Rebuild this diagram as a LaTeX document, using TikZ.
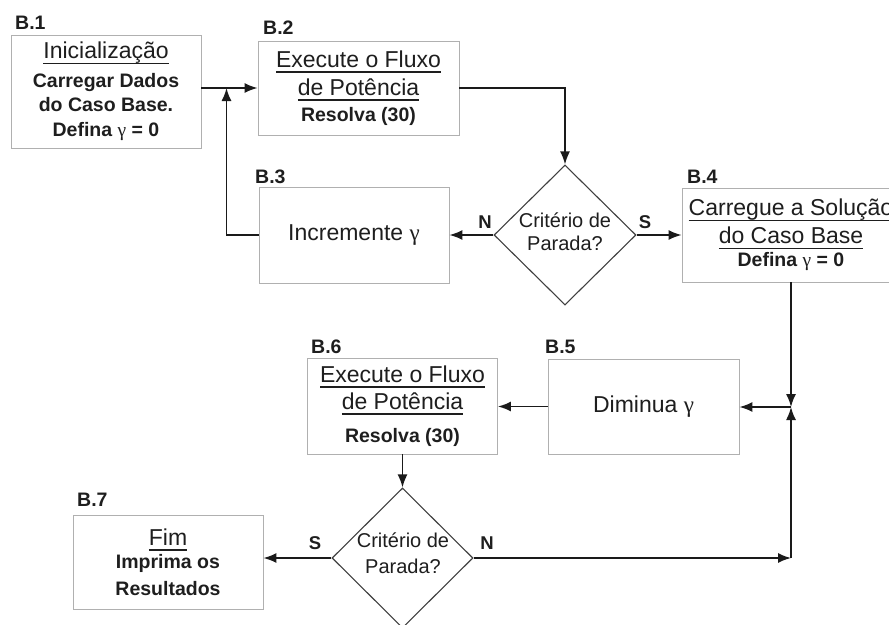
\documentclass[tikz,border=0pt]{standalone}
\usepackage{fontspec}
\setmainfont{Liberation Sans}
\newfontfamily\gfont{Liberation Serif}
\usetikzlibrary{arrows.meta,shapes.geometric}
\definecolor{boxgray}{HTML}{B0B0B0}
\definecolor{diagray}{HTML}{404040}
\definecolor{txt}{HTML}{1E1E1E}
\definecolor{linecol}{HTML}{1A1A1A}
\newcommand{\ulx}[1]{\leavevmode\setbox0=\hbox{#1}\rlap{\rule[-5.5pt]{\wd0}{1.4pt}}\box0}
\newcommand{\bsz}{\bfseries\fontsize{19.5}{24}\selectfont}
\newcommand{\gam}{{\gfont\mdseries γ}}
\tikzset{
  boxnode/.style={draw=boxgray, line width=0.9pt, inner sep=0pt, align=center, text=txt,
    font={\fontsize{23}{26}\selectfont\lineskiplimit=-50pt}},
  dia/.style={diamond, draw=diagray, line width=1.1pt, inner sep=0pt, aspect=1},
  dtext/.style={align=center, text=txt, inner sep=0pt,
    font={\fontsize{20}{23}\selectfont\lineskiplimit=-50pt}},
  tag/.style={font=\bfseries\fontsize{19.5}{22}\selectfont, text=txt, inner sep=0pt, anchor=base west},
  yn/.style={font=\bfseries\fontsize{18.5}{21}\selectfont, text=txt, inner sep=0pt},
  arr/.style={draw=linecol, line width=1.6pt, -{Latex[length=13pt,width=10pt]}}
}
\begin{document}
\begin{tikzpicture}[x=1pt,y=-1pt]
\useasboundingbox (0,0) rectangle (889,624);
\clip (0,0) rectangle (889,624);
\fill[white] (0,0) rectangle (889,624);

% boxes
\node[boxnode, minimum width=190pt, minimum height=113pt] (b1) at (106,91.5)
  {\ulx{Inicialização}\\[2.8pt] {\bsz Carregar Dados}\\[-2pt] {\bsz do Caso Base.}\\[-1pt] {\bsz Defina \gam{} = 0}};
\node[boxnode, minimum width=201pt, minimum height=94pt] (b2) at (358.5,88)
  {\ulx{Execute o Fluxo}\\[2pt] \ulx{de Potência}\\[0pt] {\bsz Resolva (30)}};
\node[boxnode, minimum width=190pt, minimum height=96pt] (b3) at (354,235) {Incremente \gam};
\node[boxnode, minimum width=218pt, minimum height=94pt] (b4) at (791,235)
  {\ulx{Carregue a Solução}\\[2pt] \ulx{do Caso Base}\\[-3pt] {\bsz Defina \gam{} = 0}};
\node[boxnode, minimum width=191pt, minimum height=95pt] (b5) at (643.5,406.5) {Diminua \gam};
\node[boxnode, minimum width=190pt, minimum height=96pt] (b6) at (402.5,406)
  {\ulx{Execute o Fluxo}\\[1pt] \ulx{de Potência}\\[7pt] {\bsz Resolva (30)}};
\node[boxnode, minimum width=190pt, minimum height=94pt] (b7) at (168,562)
  {\ulx{Fim}\\[-2.5pt] {\bsz Imprima os}\\[0.5pt] {\bsz Resultados}};

% decisions
\node[dia, minimum width=142pt, minimum height=140pt] (d1) at (565,235) {};
\node[dtext] (d1t) at (565,231.5) {Critério de\\Parada?};
\node[dia, minimum width=141pt, minimum height=140pt] (d2) at (402.5,558) {};
\node[dtext] (d2t) at (403,553) {Critério de\\[3pt]Parada?};

% tags
\node[tag] (t1) at (15,29) {B.1};
\node[tag] (t2) at (263,34) {B.2};
\node[tag] (t3) at (255,183) {B.3};
\node[tag] (t4) at (687,183) {B.4};
\node[tag] (t5) at (545,353) {B.5};
\node[tag] (t6) at (311,353) {B.6};
\node[tag] (t7) at (77,506) {B.7};

% yes/no
\node[yn] (n1) at (485,222) {N};
\node[yn] (s1) at (645,222) {S};
\node[yn] (s2) at (315,543) {S};
\node[yn] (n2) at (487,543) {N};

% connectors
\coordinate (j1) at (226.5,88);
\coordinate (j2) at (791,407);
\coordinate (c2) at (791,558);
\draw[arr] (b1.east |- j1) -- (b2.west);
\draw[arr] (b3.west) -| (j1);
\draw[arr] (b2.east) -| (d1.north);
\draw[arr] (d1.west) -- (b3.east);
\draw[arr] (d1.east) -- (b4.west);
\draw[arr] (b4.south) -- (j2);
\draw[arr] (j2) -- (b5.east |- j2);
\draw[arr] (b5.west) -- (b6.east |- b5.west);
\draw[arr] (b6.south) -- (d2.north);
\draw[arr] (d2.west) -- (b7.east |- d2.west);
\draw[arr] (d2.east) -- (c2);
\draw[arr] (c2) -- (j2);
\end{tikzpicture}
\end{document}
